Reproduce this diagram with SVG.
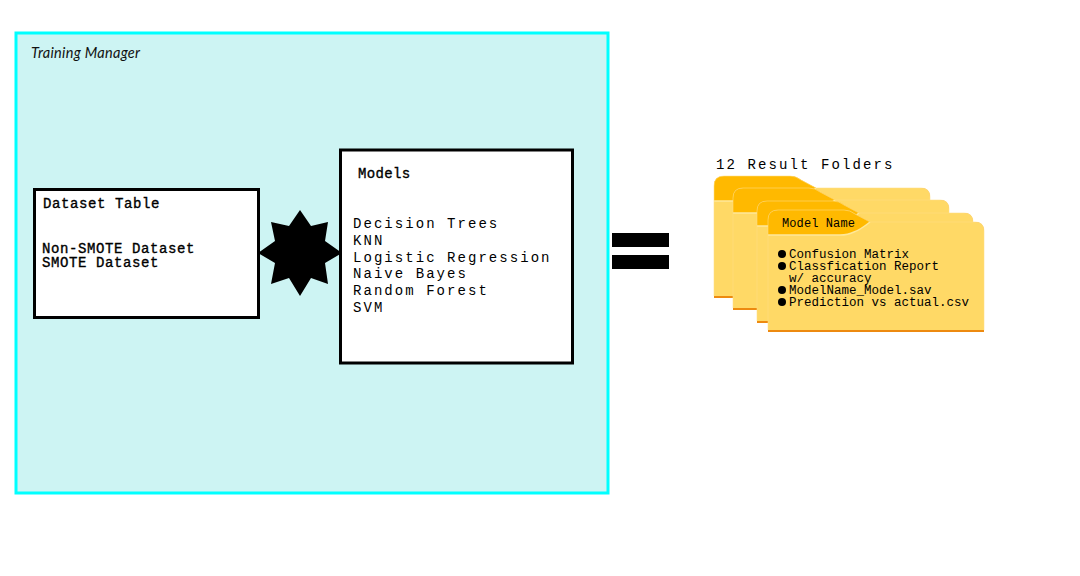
<svg xmlns="http://www.w3.org/2000/svg" width="1080" height="576" viewBox="0 0 1080 576">
<style>
.box{fill:#fff;stroke:#000;stroke-width:3}
.t{font-family:"Liberation Mono","DejaVu Sans Mono",monospace;fill:#000}
.h{stroke:#000;stroke-width:0.350}
.body{fill:#ffd966}
.tab{fill:#ffb900}
.edge{fill:#ed8a10}
.hl{fill:none;stroke:#ffe89a;stroke-width:1.500}
.rim{fill:none;stroke:#ffdf85;stroke-width:0.800;stroke-opacity:0.700}
</style>
<defs>
<g id="folder">
<path class="edge" d="M0 10Q0 0 10 0H76Q82 0 87 4L102 12H207Q216 12 216 21V122H0Z"/>
<path class="body" d="M0 10Q0 0 10 0H76Q82 0 87 4L102 12H207Q216 12 216 21V120H0Z"/>
<path class="tab" d="M0 25V10Q0 0 10 0H76Q82 0 87 4L102 12Q92 20 86 22Q80 25 72 25Z"/>
<path class="hl" d="M0 25H72Q80 25 86 22Q92 20 102 12"/>
<path class="rim" d="M0 120V10Q0 0 10 0H76Q82 0 87 4L102 12H207Q216 12 216 21V120"/>
</g>
</defs>
<rect width="1080" height="576" fill="#fff"/>
<g id="training-manager">
<rect x="16" y="33" width="592" height="460" fill="#cdf4f3" stroke="#00ffff" stroke-width="3"/>
<text x="31" y="58" font-family="'Lato','DejaVu Sans',sans-serif" font-style="italic" font-size="14.500" letter-spacing="0.300" fill="#111">Training Manager</text>
</g>
<g id="dataset-table">
<rect class="box" x="34.500" y="189.500" width="224" height="128"/>
<text class="t h" font-size="14" letter-spacing="0.600" x="43" y="208">Dataset Table</text>
<text class="t h" font-size="14" letter-spacing="0.600" x="42" y="253">Non-SMOTE Dataset</text>
<text class="t h" font-size="14" letter-spacing="0.600" x="42" y="267">SMOTE Dataset</text>
</g>
<g id="star">
<path d="M300 210L311 226L328 222L325 241L342 253L325 263L328 284L311 278L300 296L289 278L271 284L275 263L258 253L275 241L271 222L289 226Z" fill="#000"/>
</g>
<g id="models">
<rect class="box" x="340.500" y="150" width="232" height="213"/>
<text class="t h" font-size="14" letter-spacing="0.350" x="358" y="178">Models</text>
<g class="t" font-size="14" letter-spacing="2.050">
<text x="353" y="228">Decision Trees</text>
<text x="353" y="245">KNN</text>
<text x="353" y="262">Logistic Regression</text>
<text x="353" y="278">Naive Bayes</text>
<text x="353" y="295">Random Forest</text>
<text x="353" y="312">SVM</text>
</g>
</g>
<g id="equals">
<rect x="612" y="233" width="57" height="14" fill="#000"/>
<rect x="612" y="255" width="57" height="14" fill="#000"/>
</g>
<g id="result-folders">
<text class="t" font-size="14" letter-spacing="2.100" x="716" y="169">12 Result Folders</text>
<use href="#folder" x="714" y="176"/>
<use href="#folder" x="733" y="188"/>
<use href="#folder" x="757" y="201"/>
<use href="#folder" x="768" y="210"/>
<text class="t" font-size="12" letter-spacing="0.100" x="782" y="227">Model Name</text>
<g class="t" font-size="12.500" letter-spacing="0">
<circle cx="782" cy="254" r="4"/>
<text x="789" y="258">Confusion Matrix</text>
<circle cx="782" cy="266" r="4"/>
<text x="789" y="270">Classfication Report</text>
<text x="789" y="282">w/ accuracy</text>
<circle cx="782" cy="290" r="4"/>
<text x="789" y="294">ModelName_Model.sav</text>
<circle cx="782" cy="302" r="4"/>
<text x="789" y="306">Prediction vs actual.csv</text>
</g>
</g>
</svg>
